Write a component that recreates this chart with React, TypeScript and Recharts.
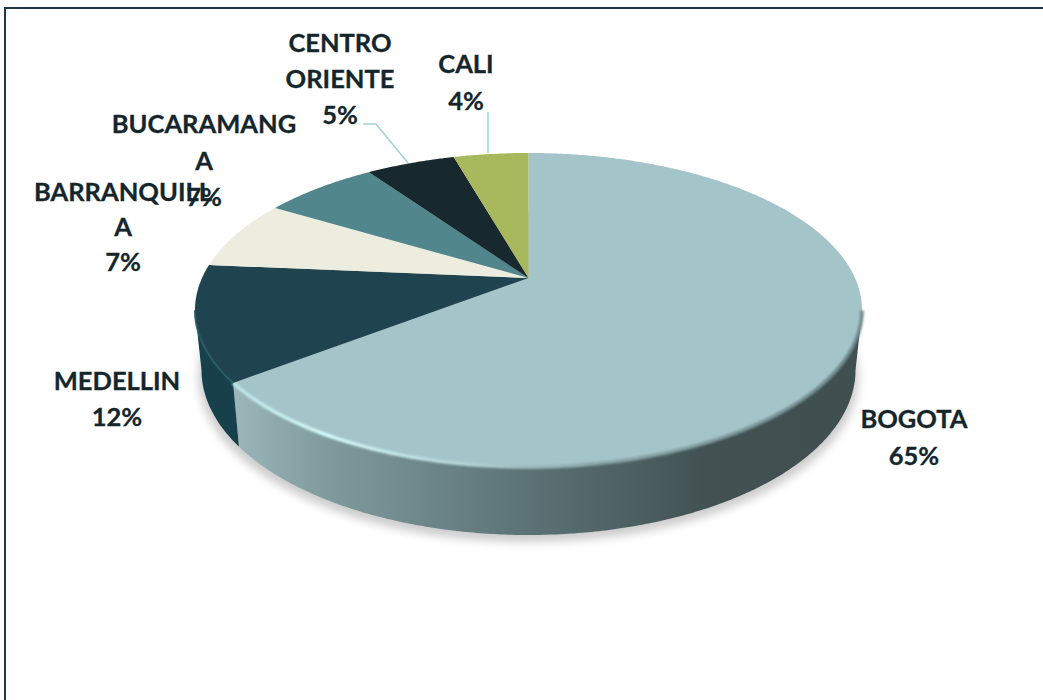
import React from "react";
import { PieChart, Pie } from "recharts";

const regions = ["BOGOTA", "MEDELLIN", "BARRANQUILLA", "BUCARAMANGA", "CENTRO ORIENTE", "CALI"];
const shares = [64.55, 11.85, 7.2, 6.73, 5.25, 4.42];
const topColors = ["#a3c4c9", "#1f444f", "#ecedde", "#50868c", "#17292f", "#a8b85c"];
const wallColors = ["url(#wallBogota)", "#17404a", "#c5c6b8", "#3f6c72", "#101e22", "#8a984a"];
const labelLines = [
  ["BOGOTA"],
  ["MEDELLIN"],
  ["BARRANQUILL", "A"],
  ["BUCARAMANG", "A"],
  ["CENTRO", "ORIENTE"],
  ["CALI"],
];
const labelCenters = [914, 117, 123, 204, 340, 466];
const labelBaselines = [428, 389.5, 201, 133, 52, 73];
const labelLineHeights = [36.5, 36.5, 35, 36.5, 36, 36.5];
const leaders: Record<number, string> = {
  4: "363,124 376,124 408,163",
  5: "488,112 488,153",
};

const data = regions.map((name, i) => ({ name, value: shares[i], fill: topColors[i], wall: wallColors[i] }));

const PERSP = 0.204;
const RY_TOP = 157;
const BOT = { rx: 327, ry: 165, dy: 60 };
const RAD = Math.PI / 180;

function proj(deg: number, cx: number, cy: number, rx: number, ry: number) {
  const u = Math.cos(deg * RAD);
  const v = Math.sin(deg * RAD);
  const d = 1 + PERSP * v;
  return [cx + (rx * u * Math.sqrt(1 - PERSP * PERSP)) / d, cy - (ry * (v + PERSP)) / d];
}

function frontVisible(deg: number) {
  const v = Math.sin(deg * RAD);
  return v + PERSP <= 0;
}

function TopFace(props: any) {
  const { cx, cy, outerRadius: r, startAngle, endAngle, fill, index } = props;
  const pts: string[] = [`${cx},${cy - (RY_TOP * PERSP)}`];
  const n = Math.max(2, Math.ceil(Math.abs(endAngle - startAngle) * 2));
  const rim: string[] = [];
  for (let i = 0; i <= n; i++) {
    const a = startAngle + ((endAngle - startAngle) * i) / n;
    const p = proj(a, cx, cy, r, RY_TOP);
    pts.push(`${p[0].toFixed(1)},${p[1].toFixed(1)}`);
    if (frontVisible(a)) rim.push(`${p[0].toFixed(1)},${p[1].toFixed(1)}`);
  }
  return (
    <g>
      <polygon points={pts.join(" ")} fill={fill} stroke="none" />
      {index === 0 && rim.length > 1 && (
        <g>
          <defs>
            <linearGradient id="rimGrad" gradientUnits="userSpaceOnUse" x1={195} x2={862} y1={0} y2={0}>
              <stop offset="0" stopColor="#b4dcdc" />
              <stop offset="0.2" stopColor="#d4fbfb" />
              <stop offset="0.4" stopColor="#b4d4d6" />
              <stop offset="0.6" stopColor="#88a3a6" />
              <stop offset="1" stopColor="#6d878a" />
            </linearGradient>
            <filter id="rimBlur" x="-5%" y="-20%" width="110%" height="140%">
              <feGaussianBlur stdDeviation="1.2" />
            </filter>
          </defs>
          <polyline points={rim.join(" ")} fill="none" stroke="url(#rimGrad)" strokeWidth={3.5} filter="url(#rimBlur)" />
        </g>
      )}
      {index === 1 && rim.length > 1 && (
        <polyline points={rim.join(" ")} fill="none" stroke="#2b5d66" strokeWidth={2} />
      )}
    </g>
  );
}

function Wall(props: any) {
  const { cx, cy, outerRadius: r, startAngle, endAngle, payload, index } = props;
  const topPts: number[][] = [];
  const botPts: number[][] = [];
  const n = Math.max(2, Math.ceil(Math.abs(endAngle - startAngle) * 2));
  for (let i = 0; i <= n; i++) {
    const a = startAngle + ((endAngle - startAngle) * i) / n;
    if (!frontVisible(a)) continue;
    topPts.push(proj(a, cx, cy, r, RY_TOP));
    botPts.push(proj(a, cx, cy + BOT.dy, BOT.rx, BOT.ry));
  }
  return (
    <g>
      {index === 0 && (
        <g>
          <defs>
            <linearGradient id="wallBogota" gradientUnits="userSpaceOnUse" x1={235} x2={862} y1={0} y2={0}>
              <stop offset="0" stopColor="#9ab6b9" />
              <stop offset="0.15" stopColor="#7f9a9d" />
              <stop offset="0.45" stopColor="#5d7478" />
              <stop offset="0.75" stopColor="#425253" />
              <stop offset="1" stopColor="#3f4e4f" />
            </linearGradient>
            <filter id="pieShadow" x="-10%" y="-10%" width="120%" height="130%">
              <feGaussianBlur stdDeviation="5" />
            </filter>
          </defs>
          <ellipse cx={cx} cy={cy + BOT.dy + 7} rx={BOT.rx + 3} ry={BOT.ry} fill="#000" opacity={0.2} filter="url(#pieShadow)" />
        </g>
      )}
      {topPts.length > 1 && (
        <polygon
          points={[...topPts, ...botPts.reverse()].map((p) => `${p[0].toFixed(1)},${p[1].toFixed(1)}`).join(" ")}
          fill={payload.wall}
          stroke="none"
        />
      )}
    </g>
  );
}

function SliceLabel(props: any) {
  const { index, value } = props;
  const lines = [...labelLines[index], `${Math.round(value)}%`];
  return (
    <g>
      {leaders[index] && <polyline points={leaders[index]} fill="none" stroke="#a3d0da" strokeWidth={1.5} />}
      {lines.map((t, i) => (
        <text
          key={i}
          x={labelCenters[index]}
          y={labelBaselines[index] + i * labelLineHeights[index]}
          textAnchor="middle"
          fontFamily="Lato, 'Open Sans', sans-serif"
          fontWeight={700}
          fontSize={25.5}
          fill="#14262c"
          stroke="#14262c"
          strokeWidth={0.3}
        >
          {t}
        </text>
      ))}
    </g>
  );
}

export default function App() {
  return (
    <div style={{ position: "absolute", left: 0, top: 0, width: 1043, height: 700, overflow: "hidden", background: "#fff" }}>
      <div style={{ position: "absolute", left: 4, top: 7, width: 1100, height: 800, borderLeft: "2px solid #1f3a44", borderTop: "2px solid #1f3a44" }} />
      <div style={{ position: "absolute", left: 0, top: 0 }}>
        <PieChart width={1043} height={700} margin={{ top: 0, right: 0, bottom: 0, left: 0 }}>
          <Pie
            data={data}
            dataKey="value"
            nameKey="name"
            cx={528.5}
            cy={310}
            outerRadius={333.5}
            startAngle={90}
            endAngle={-270}
            stroke="none"
            isAnimationActive={false}
            shape={Wall}
            legendType="none"
          />
          <Pie
            data={data}
            dataKey="value"
            nameKey="name"
            cx={528.5}
            cy={310}
            outerRadius={333.5}
            startAngle={90}
            endAngle={-270}
            stroke="none"
            isAnimationActive={false}
            shape={TopFace}
            label={SliceLabel}
            labelLine={false}
          />
        </PieChart>
      </div>
    </div>
  );
}
